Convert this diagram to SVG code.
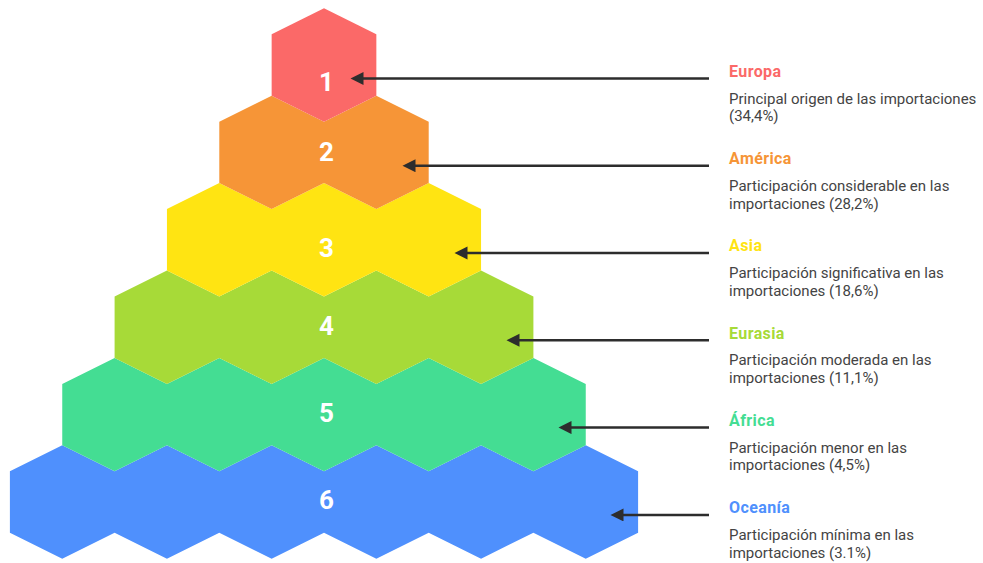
<svg xmlns="http://www.w3.org/2000/svg" width="983" height="563" viewBox="0 0 983 563">
<style>
  .num { font-family: Roboto, "Liberation Sans", sans-serif; font-weight: 700; font-size: 26px; fill: #ffffff; text-anchor: middle; }
  .title { font-family: Roboto, "Liberation Sans", sans-serif; font-weight: 700; font-size: 16px; letter-spacing: 0.4px; }
  .desc { font-family: Roboto, "Liberation Sans", sans-serif; font-size: 15px; fill: #444444; }
  .conn { stroke: #2d2d2d; stroke-width: 2.5; fill: none; marker-end: url(#arrow); }
</style>
<defs>
  <marker id="arrow" markerUnits="userSpaceOnUse" markerWidth="14" markerHeight="14" refX="5" refY="6.5" orient="auto">
    <path d="M0,0 L13,6.5 L0,13 Z" fill="#2d2d2d"/>
  </marker>
</defs>
<rect width="983" height="563" fill="#ffffff"/>

<g id="level6">
  <path fill="#4F90FD" d="M9.9,471.3 L62.25,445.3 L114.6,471.3 L166.95,445.3 L219.3,471.3 L271.65,445.3 L324,471.3 L376.35,445.3 L428.7,471.3 L481.05,445.3 L533.4,471.3 L585.75,445.3 L638.1,471.3 L638.1,532.7 L585.75,558.7 L533.4,532.7 L481.05,558.7 L428.7,532.7 L376.35,558.7 L324,532.7 L271.65,558.7 L219.3,532.7 L166.95,558.7 L114.6,532.7 L62.25,558.7 L9.9,532.7 Z"/>
  <text class="num" x="326.5" y="509.3">6</text>
</g>
<g id="level5">
  <path fill="#44DD93" d="M62.25,383.9 L114.6,357.9 L166.95,383.9 L219.3,357.9 L271.65,383.9 L324,357.9 L376.35,383.9 L428.7,357.9 L481.05,383.9 L533.4,357.9 L585.75,383.9 L585.75,445.3 L533.4,471.3 L481.05,445.3 L428.7,471.3 L376.35,445.3 L324,471.3 L271.65,445.3 L219.3,471.3 L166.95,445.3 L114.6,471.3 L62.25,445.3 Z"/>
  <text class="num" x="326.5" y="422.3">5</text>
</g>
<g id="level4">
  <path fill="#A7DA38" d="M114.6,296.5 L166.95,270.5 L219.3,296.5 L271.65,270.5 L324,296.5 L376.35,270.5 L428.7,296.5 L481.05,270.5 L533.4,296.5 L533.4,357.9 L481.05,383.9 L428.7,357.9 L376.35,383.9 L324,357.9 L271.65,383.9 L219.3,357.9 L166.95,383.9 L114.6,357.9 Z"/>
  <text class="num" x="326.5" y="335.3">4</text>
</g>
<g id="level3">
  <path fill="#FFE412" d="M166.95,209.1 L219.3,183.1 L271.65,209.1 L324,183.1 L376.35,209.1 L428.7,183.1 L481.05,209.1 L481.05,270.5 L428.7,296.5 L376.35,270.5 L324,296.5 L271.65,270.5 L219.3,296.5 L166.95,270.5 Z"/>
  <text class="num" x="326.5" y="257.3">3</text>
</g>
<g id="level2">
  <path fill="#F69537" d="M219.3,121.7 L271.65,95.7 L324,121.7 L376.35,95.7 L428.7,121.7 L428.7,183.1 L376.35,209.1 L324,183.1 L271.65,209.1 L219.3,183.1 Z"/>
  <text class="num" x="326.5" y="160.5">2</text>
</g>
<g id="level1">
  <path fill="#FB6968" d="M271.65,34.3 L324,8.3 L376.35,34.3 L376.35,95.7 L324,121.7 L271.65,95.7 Z"/>
  <text class="num" x="326.5" y="91">1</text>
</g>

<g id="connectors">
  <path class="conn" d="M709,78.4 H358.5"/>
  <path class="conn" d="M709,165.7 H410.5"/>
  <path class="conn" d="M709,253 H462.5"/>
  <path class="conn" d="M709,340.3 H514.5"/>
  <path class="conn" d="M709,427.6 H566.5"/>
  <path class="conn" d="M709,514.9 H618.5"/>
</g>

<g id="label-europa">
  <text class="title" x="729" y="76.7" fill="#FB6968">Europa</text>
  <text class="desc" x="729" y="103.5">Principal origen de las importaciones</text>
  <text class="desc" x="729" y="121.2">(34,4%)</text>
</g>
<g id="label-america">
  <text class="title" x="729" y="164" fill="#F69537">América</text>
  <text class="desc" x="729" y="190.8">Participación considerable en las</text>
  <text class="desc" x="729" y="208.5">importaciones (28,2%)</text>
</g>
<g id="label-asia">
  <text class="title" x="729" y="251.3" fill="#FFE412">Asia</text>
  <text class="desc" x="729" y="278.1">Participación significativa en las</text>
  <text class="desc" x="729" y="295.8">importaciones (18,6%)</text>
</g>
<g id="label-eurasia">
  <text class="title" x="729" y="338.6" fill="#A7DA38">Eurasia</text>
  <text class="desc" x="729" y="365.4">Participación moderada en las</text>
  <text class="desc" x="729" y="383.1">importaciones (11,1%)</text>
</g>
<g id="label-africa">
  <text class="title" x="729" y="425.9" fill="#44DD93">África</text>
  <text class="desc" x="729" y="452.7">Participación menor en las</text>
  <text class="desc" x="729" y="470.4">importaciones (4,5%)</text>
</g>
<g id="label-oceania">
  <text class="title" x="729" y="513.2" fill="#4F90FD">Oceanía</text>
  <text class="desc" x="729" y="540">Participación mínima en las</text>
  <text class="desc" x="729" y="557.7">importaciones (3.1%)</text>
</g>
</svg>
